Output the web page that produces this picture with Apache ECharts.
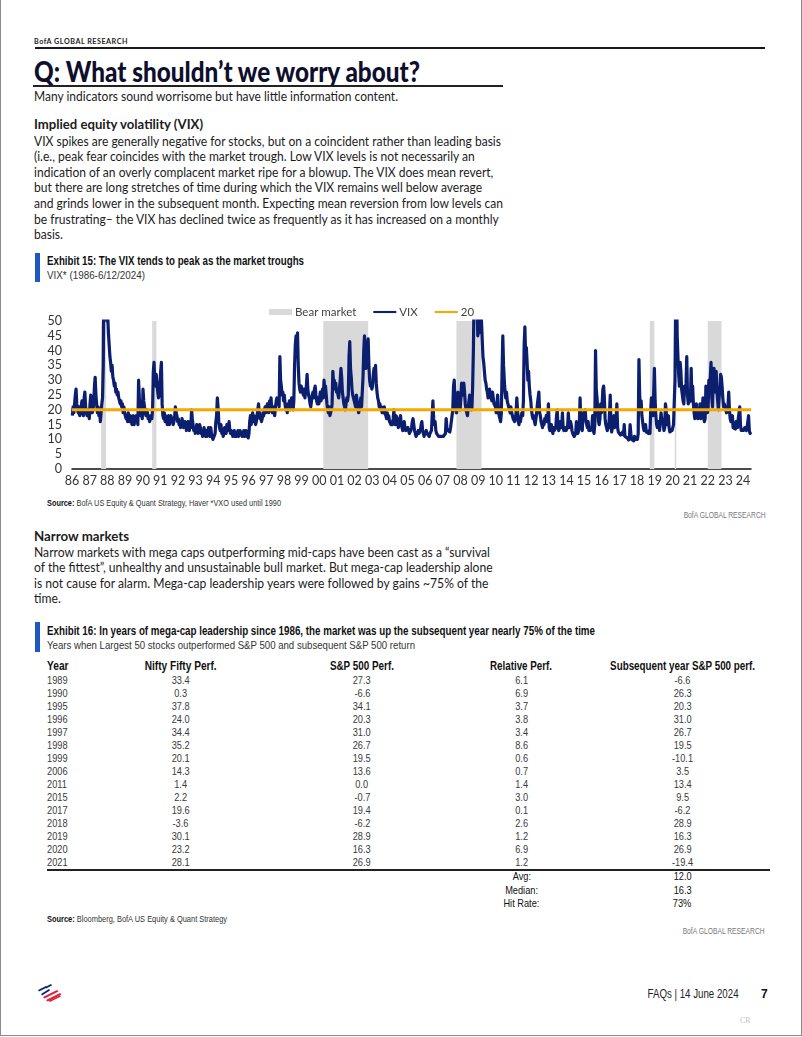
<!DOCTYPE html>
<html>
<head>
<meta charset="utf-8">
<script src="https://cdn.jsdelivr.net/npm/echarts@6/dist/echarts.min.js"></script>
<style>
html,body{margin:0;padding:0;background:#fff;}
#page{position:relative;width:802px;height:1037px;overflow:hidden;font-family:Lato,"Open Sans",sans-serif;color:#1c1c1c;}
.a{position:absolute;white-space:nowrap;}
.n{font-family:"Liberation Sans Narrow","Liberation Sans",sans-serif;}
.blk{position:absolute;white-space:nowrap;transform-origin:0 0;}
.fit{display:inline-block;}
.cell{position:absolute;white-space:nowrap;font-family:"Liberation Sans",sans-serif;font-size:11px;color:#3a3a3a;line-height:13px;}
</style>
</head>
<body>
<div id="page">
  <!-- page frame -->
  <div class="a" style="left:0;top:0;width:1px;height:1036px;background:#8c8c8c"></div>
  <div class="a" style="left:801px;top:0;width:1px;height:1036px;background:#8c8c8c"></div>
  <div class="a" style="left:0;top:1035px;width:802px;height:1px;background:#8c8c8c"></div>

  <div class="a fitline" data-w="94" style="left:34px;top:36px;font-size:8px;line-height:10px;font-weight:700;letter-spacing:0.6px;color:#222">BofA GLOBAL RESEARCH</div>
  <div class="a" style="left:35px;top:47px;width:730px;height:1.5px;background:#1a1a1a"></div>

  <div class="a fitline" data-w="386" style="left:34px;top:56px;font-size:28px;line-height:30px;font-weight:900;color:#0e0f2c">Q: What shouldn’t we worry about?</div>
  <div class="a" style="left:33px;top:84.5px;width:470px;height:2px;background:#222"></div>

  <div class="a fitline" data-w="364" style="left:34px;top:88px;font-size:13px;line-height:16px">Many indicators sound worrisome but have little information content.</div>
  <div class="a fitline" data-w="169" style="left:34px;top:116px;font-size:13px;line-height:16px;font-weight:700">Implied equity volatility (VIX)</div>

  <div class="blk" data-w="467" style="left:34px;top:133.8px;font-size:13px;line-height:15.55px">
    <div><span class="fit">VIX spikes are generally negative for stocks, but on a coincident rather than leading basis</span></div>
    <div>(i.e., peak fear coincides with the market trough. Low VIX levels is not necessarily an</div>
    <div>indication of an overly complacent market ripe for a blowup. The VIX does mean revert,</div>
    <div>but there are long stretches of time during which the VIX remains well below average</div>
    <div>and grinds lower in the subsequent month. Expecting mean reversion from low levels can</div>
    <div>be frustrating– the VIX has declined twice as frequently as it has increased on a monthly</div>
    <div>basis.</div>
  </div>

  <!-- Exhibit 15 -->
  <div class="a" style="left:35px;top:253px;width:5px;height:29px;background:#1f56c6"></div>
  <div class="a n fitline" data-w="257" style="left:47px;top:254px;font-size:12px;line-height:15px;font-weight:700;color:#111">Exhibit 15: The VIX tends to peak as the market troughs</div>
  <div class="a n fitline" data-w="98" style="left:47px;top:268px;font-size:11.5px;line-height:15px;color:#333">VIX* (1986-6/12/2024)</div>
  <div id="chart" class="a" style="left:0;top:290px;width:802px;height:205px"></div>
  <div class="a n fitline" data-w="234" style="left:47px;top:497px;font-size:8.5px;line-height:12px;color:#333"><b style="color:#111">Source:</b> BofA US Equity &amp; Quant Strategy, Haver *VXO used until 1990</div>
  <div class="a n fitline" data-w="82" data-align="right" style="right:36px;top:509px;font-size:8.5px;line-height:12px;color:#777">BofA GLOBAL RESEARCH</div>

  <!-- Narrow markets -->
  <div class="a fitline" data-w="95" style="left:34px;top:528px;font-size:13px;line-height:16px;font-weight:700">Narrow markets</div>
  <div class="blk" data-w="456" style="left:34px;top:544.5px;font-size:13px;line-height:15.6px">
    <div><span class="fit">Narrow markets with mega caps outperforming mid-caps have been cast as a “survival</span></div>
    <div>of the fittest”, unhealthy and unsustainable bull market. But mega-cap leadership alone</div>
    <div>is not cause for alarm. Mega-cap leadership years were followed by gains ~75% of the</div>
    <div>time.</div>
  </div>

  <!-- Exhibit 16 -->
  <div class="a" style="left:35px;top:622px;width:5px;height:30px;background:#1f56c6"></div>
  <div class="a n fitline" data-w="548" style="left:47px;top:623.5px;font-size:12px;line-height:15px;font-weight:700;color:#111">Exhibit 16: In years of mega-cap leadership since 1986, the market was up the subsequent year nearly 75% of the time</div>
  <div class="a n fitline" data-w="368" style="left:47px;top:638px;font-size:11.5px;line-height:15px;color:#333">Years when Largest 50 stocks outperformed S&amp;P 500 and subsequent S&amp;P 500 return</div>
  <div class="a" style="left:47px;top:869px;width:723px;height:1.5px;background:#222"></div>
  <div class="a n fitline" data-w="180" style="left:47px;top:913px;font-size:8.5px;line-height:12px;color:#333"><b style="color:#111">Source:</b> Bloomberg, BofA US Equity &amp; Quant Strategy</div>
  <div class="a n fitline" data-w="82" data-align="right" style="right:37px;top:925px;font-size:8.5px;line-height:12px;color:#777">BofA GLOBAL RESEARCH</div>

  <!-- footer -->
  <svg class="a" style="left:35px;top:984px" width="32" height="19" viewBox="0 0 32 19">
    <polygon points="3,6 11,2 12,3.5 4,7.5" fill="#0a2a78"/>
    <polygon points="6,10 14,5 15,6.5 7,11.5" fill="#0a2a78"/>
    <polygon points="10,3 16,0 17,1.5 11,4.5" fill="#0a2a78"/>
    <polygon points="2,11 16,4 17.5,5.5 3.5,12.5" fill="#e01f3d" transform="translate(6,2)"/>
    <polygon points="2,11 16,4 17.5,5.5 3.5,12.5" fill="#e01f3d" transform="translate(9,5)"/>
    <polygon points="2,11 16,4 17.5,5.5 3.5,12.5" fill="#e01f3d" transform="translate(12,8) scale(0.8)"/>
  </svg>
  <div class="a n fitline" data-w="91" data-align="right" style="right:63px;top:987px;font-size:12px;line-height:15px;color:#222">FAQs | 14 June 2024</div>
  <div class="a n" style="left:761px;top:987px;font-size:12px;line-height:15px;font-weight:700;color:#111">7</div>
  <div class="a n" style="left:740px;top:1015px;font-size:8px;line-height:11px;color:#c4c4c4;font-family:'Liberation Serif',serif">CR</div>
</div>

<script>
// ---------------- DATA ----------------
// VIX (VXO before 1990), two readings per month (first half, second half), from Jan 1986 to mid-June 2024
const vixStartYear = 1986;
const vixValues = [
/*1986*/ 18,21, 19,22, 25,27, 22,20, 19,21, 18,20, 21,23, 19,18, 24,26, 21,19, 18,20, 19,17,
/*1987*/ 22,25, 21,19, 20,22, 28,31, 25,22, 19,21, 18,20, 16,19, 22,24, 35,70, 60,52, 55,50,
/*1988*/ 52,46, 42,38, 36,33, 35,31, 30,28, 29,26, 27,25, 26,24, 24,22, 23,21, 22,19, 21,19,
/*1989*/ 19,17, 18,16, 19,17, 16,18, 17,15, 16,18, 15,17, 16,18, 17,15, 30,24, 20,18, 19,17,
/*1990*/ 27,23, 21,19, 18,20, 19,17, 18,16, 17,18, 17,20, 33,36, 30,28, 32,29, 26,24, 25,28,
/*1991*/ 33,36, 22,18, 17,19, 16,18, 17,15, 16,18, 15,17, 18,16, 17,15, 16,18, 21,19, 18,16,
/*1992*/ 17,15, 16,14, 15,17, 16,14, 14,16, 15,13, 14,16, 15,13, 16,14, 20,17, 15,13, 14,12,
/*1993*/ 13,15, 14,12, 13,15, 14,12, 13,11, 12,14, 12,11, 13,11, 12,14, 13,11, 14,12, 11,10,
/*1994*/ 10,9.5, 12,16, 18,24, 21,16, 14,13, 15,12, 13,11, 12,14, 13,12, 15,13, 14,16, 13,12,
/*1995*/ 13,12, 11,12, 13,11, 12,11, 12,13, 11,12, 13,12, 12,11, 12,13, 11,12, 13,11, 12,10.5,
/*1996*/ 12,16, 18,15, 17,19, 16,18, 17,15, 16,18, 20,22, 19,17, 18,16, 17,19, 18,20, 21,19,
/*1997*/ 20,22, 21,19, 23,21, 24,20, 19,21, 20,18, 21,23, 24,22, 23,21, 38,30, 28,25, 26,23,
/*1998*/ 25,22, 20,21, 19,22, 21,23, 20,22, 24,22, 20,23, 35,42, 45,38, 46,35, 29,27, 26,28,
/*1999*/ 28,26, 25,27, 24,26, 28,32, 27,25, 24,22, 21,23, 25,26, 24,27, 28,25, 23,22, 24,22,
/*2000*/ 24,26, 23,25, 27,24, 30,27, 28,25, 22,20, 19,21, 18,19, 20,22, 33,29, 30,27, 29,26,
/*2001*/ 27,25, 24,27, 30,34, 31,26, 24,22, 21,20, 22,24, 23,25, 38,43, 34,31, 27,25, 24,23,
/*2002*/ 23,21, 25,23, 21,19, 20,22, 24,21, 26,31, 40,45, 38,34, 37,42, 44,35, 30,28, 29,27,
/*2003*/ 28,32, 34,31, 35,29, 26,24, 23,21, 22,20, 21,19, 20,19, 21,19, 18,17, 19,17, 18,16,
/*2004*/ 16,15, 16,15, 17,20, 16,15, 18,17, 16,14, 15,17, 18,15, 14,13, 15,16, 14,13, 13,12.5,
/*2005*/ 14,13, 12,11.5, 13,14, 16,17, 15,13, 12,11, 11,12, 13,12, 12,13, 15,16, 13,12, 11,12,
/*2006*/ 12,13, 12,11.5, 12,11, 12,11.5, 13,18, 23,17, 15,16, 13,12, 12,11.5, 11,11.5, 10.5,11, 11,10.5,
/*2007*/ 11,10.5, 10.5,12, 17,14, 13,12.5, 13,12.5, 14,16, 16,20, 28,30, 22,20, 19,21, 26,24, 22,20,
/*2008*/ 24,29, 26,25, 29,26, 22,20, 19,18, 21,23, 25,22, 21,20, 28,40, 60,70, 60,65, 55,45,
/*2009*/ 50,46, 47,52, 50,44, 38,36, 33,30, 29,27, 26,24, 25,27, 24,25, 23,26, 24,22, 22,21,
/*2010*/ 19,22, 25,20, 18,17, 16,19, 33,45, 35,30, 26,24, 26,23, 22,21, 20,19, 21,19, 18,17,
/*2011*/ 17,16, 17,19, 24,20, 16,15, 17,16, 18,19, 18,23, 42,48, 38,41, 36,30, 33,28, 25,23,
/*2012*/ 20,18, 17,18, 16,15, 17,19, 22,24, 26,19, 18,16, 15,14, 16,15, 17,16, 18,16, 17,22,
/*2013*/ 14,13, 14,15, 13,12, 14,13, 13,14, 18,20, 14,13, 14,16, 15,14, 19,14, 13,12.5, 14,13,
/*2014*/ 13,14, 19,15, 14,16, 15,13, 12,11.5, 11,11.5, 12,16, 14,12, 13,15, 24,17, 14,13, 19,17,
/*2015*/ 19,20, 16,15, 14,16, 13,14, 13,12.5, 14,18, 13,12, 15,40, 27,24, 20,16, 15,17, 22,19,
/*2016*/ 22,27, 28,24, 17,15, 14,13, 15,14, 19,25, 14,12.5, 12,12.5, 18,14, 15,17, 22,14, 12.5,13,
/*2017*/ 12,11.5, 11,12, 12.5,11.5, 15,11, 10.5,10.5, 10.5,11, 9.8,10.5, 15,12, 10,9.8, 10,9.5, 11,10, 10,10.5,
/*2018*/ 10,12, 37,25, 20,23, 18,16, 14,13, 13,15, 12.5,12, 13,12, 13,12, 20,24, 20,18, 25,34,
/*2019*/ 23,18, 15,14, 14,16, 13,12.5, 19,17, 16,15, 13,14, 22,20, 15,16, 18,14, 12.5,12.5, 13,13,
/*2020*/ 13,15, 15,30, 60,65, 45,38, 32,28, 36,33, 27,25, 23,22, 28,26, 29,38, 25,22, 22,23,
/*2021*/ 24,34, 23,28, 22,19, 17,18, 22,18, 17,20, 18,22, 17,18, 20,24, 17,16, 17,28, 22,19,
/*2022*/ 20,30, 27,31, 36,24, 21,31, 34,28, 26,33, 26,23, 20,24, 27,32, 31,28, 24,21, 22,21,
/*2023*/ 21,19, 19,21, 26,20, 17,16, 17,18, 14,13.5, 13.5,13.5, 16,15, 14,17, 19,21, 15,13, 12.5,12.5,
/*2024*/ 13,13.5, 14,14, 13,14, 16,18, 13,12, 12.5
];
// Bear markets (fractional years)
const bearStart = [1987.65, 1990.54, 2000.23, 2007.77, 2018.72, 2020.13, 2022.00];
const bearEnd   = [1987.93, 1990.78, 2002.77, 2009.19, 2018.98, 2020.22, 2022.78];
const refLevel = 20;
const xMin = 1986, xMax = 2024.45;
const yMin = 0, yMax = 50, yStep = 5;

// Exhibit 16 table
const tblYears      = ['1989','1990','1995','1996','1997','1998','1999','2006','2011','2015','2017','2018','2019','2020','2021'];
const tblNifty      = ['33.4','0.3','37.8','24.0','34.4','35.2','20.1','14.3','1.4','2.2','19.6','-3.6','30.1','23.2','28.1'];
const tblSP500      = ['27.3','-6.6','34.1','20.3','31.0','26.7','19.5','13.6','0.0','-0.7','19.4','-6.2','28.9','16.3','26.9'];
const tblRelative   = ['6.1','6.9','3.7','3.8','3.4','8.6','0.6','0.7','1.4','3.0','0.1','2.6','1.2','6.9','1.2'];
const tblSubsequent = ['-6.6','26.3','20.3','31.0','26.7','19.5','-10.1','3.5','13.4','9.5','-6.2','28.9','16.3','26.9','-19.4'];
const tblHeaders    = ['Year','Nifty Fifty Perf.','S&P 500 Perf.','Relative Perf.','Subsequent year S&P 500 perf.'];
const tblSummaryLabels = ['Avg:','Median:','Hit Rate:'];
const tblSummaryValues = ['12.0','16.3','73%'];

// ---------------- TABLE (HTML) ----------------
(function(){
  const page = document.getElementById('page');
  const colCenters = [null, 180.5, 362, 521.5, 682.5];
  const headerWidths = [21.5, 72, 64, 62, 145];
  const cellScale = 0.84;
  function cell(text, cx, cy, opts){
    opts = opts || {};
    const d = document.createElement('div');
    d.className = 'cell';
    d.textContent = text;
    d.style.top = (cy - 6.5) + 'px';
    if (opts.bold) { d.style.fontWeight = '700'; d.style.color = '#111'; d.style.fontSize = '12px'; }
    if (opts.dark) { d.style.color = '#111'; }
    page.appendChild(d);
    const w = d.getBoundingClientRect().width;
    const s = opts.targetW ? opts.targetW / w : cellScale;
    if (cx === null) { d.style.left = '47px'; d.style.transformOrigin = '0 0'; }
    else { d.style.left = (cx - w / 2) + 'px'; d.style.transformOrigin = '50% 0'; }
    d.style.transform = 'scaleX(' + s + ')';
  }
  tblHeaders.forEach((h,i)=>cell(h, colCenters[i], 666, {bold:true, targetW: headerWidths[i]}));
  const cols = [tblYears, tblNifty, tblSP500, tblRelative, tblSubsequent];
  tblYears.forEach((y,r)=>{
    const cy = 680 + r*13.02;
    cols.forEach((c,i)=>cell(c[r], colCenters[i], cy));
  });
  tblSummaryLabels.forEach((l,r)=>{
    const cy = 876.7 + r*13.3;
    cell(l, colCenters[3], cy, {dark:true});
    cell(tblSummaryValues[r], colCenters[4], cy, {dark:true});
  });
})();

// ---------------- TEXT WIDTH FITTING ----------------
document.querySelectorAll('.fitline').forEach(el=>{
  const w = el.getBoundingClientRect().width;
  const t = +el.dataset.w;
  if (w > 0 && t > 0) {
    el.style.transformOrigin = el.dataset.align === 'right' ? '100% 0' : '0 0';
    el.style.transform = 'scaleX(' + (t / w) + ')';
  }
});
document.querySelectorAll('.blk').forEach(el=>{
  const ref = el.querySelector('.fit');
  const w = ref.getBoundingClientRect().width;
  const t = +el.dataset.w;
  if (w > 0) el.style.transform = 'scaleX(' + (t / w) + ')';
});

// ---------------- CHART ----------------
const vixData = vixValues.map((v, i) => [vixStartYear + (i + 0.5) / 24, v]);
const chart = echarts.init(document.getElementById('chart'), null, {renderer: 'canvas'});
const font = 'Lato, "Open Sans", sans-serif';
const lineIcon = 'path://M0,0 L24,0 L24,2.2 L0,2.2 Z';
chart.setOption({
  animation: false,
  textStyle: {fontFamily: font},
  grid: {left: 72, right: 51, top: 31, height: 148, containLabel: false},
  legend: {
    left: 264, top: 11,
    itemWidth: 23, itemHeight: 6, itemGap: 17,
    symbolKeepAspect: true,
    textStyle: {fontSize: 11.5, color: '#444', fontFamily: font, padding: [0, 0, 0, -2]},
    data: [
      {name: 'Bear market', icon: 'rect'},
      {name: 'VIX', icon: lineIcon},
      {name: String(refLevel), icon: lineIcon}
    ]
  },
  xAxis: {
    type: 'value', min: xMin, max: xMax, interval: 1,
    axisLine: {show: true, lineStyle: {color: '#111', width: 1.5}},
    axisTick: {show: false},
    splitLine: {show: false},
    axisLabel: {
      color: '#333', fontSize: 12.5, margin: 5, showMaxLabel: false,
      formatter: v => (Math.abs(v - Math.round(v)) < 1e-6 ? String(Math.round(v)).slice(2) : '')
    }
  },
  yAxis: {
    type: 'value', min: yMin, max: yMax, interval: yStep,
    axisLine: {show: false}, axisTick: {show: false}, splitLine: {show: false},
    axisLabel: {color: '#333', fontSize: 12.5, margin: 10}
  },
  series: [
    {
      name: 'Bear market', type: 'line', data: [], symbol: 'none',
      itemStyle: {color: '#d9d9d9'}, lineStyle: {color: '#d9d9d9'},
      markArea: {
        silent: true,
        itemStyle: {color: '#d9d9d9'},
        data: bearStart.map((s, i) => [{xAxis: s}, {xAxis: bearEnd[i]}])
      }
    },
    {
      name: 'VIX', type: 'line', data: vixData, symbol: 'none', showSymbol: false,
      clip: true,
      lineStyle: {color: '#0b1f6e', width: 3.2, join: 'round'},
      itemStyle: {color: '#0b1f6e'}
    },
    {
      name: String(refLevel), type: 'line', data: [[xMin, refLevel], [xMax, refLevel]],
      symbol: 'none',
      lineStyle: {color: '#f4a900', width: 3},
      itemStyle: {color: '#f4a900'}
    }
  ]
});
</script>
</body>
</html>
